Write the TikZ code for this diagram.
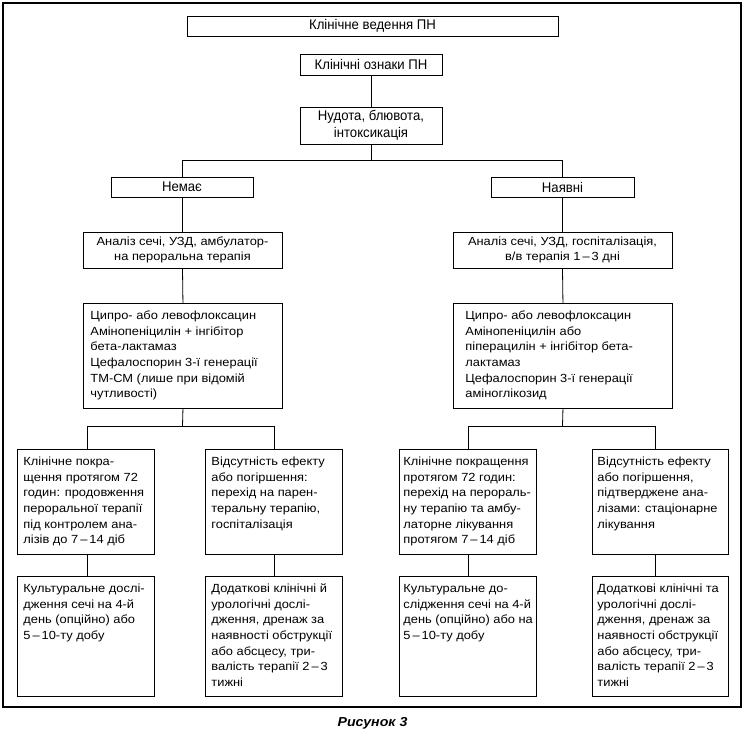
\documentclass[tikz,border=0pt]{standalone}
\usepackage{fontspec}
\setmainfont{Liberation Sans}
\newfontfamily\topfont{Liberation Sans}[FakeStretch=0.94]
\newfontfamily\lowfont{Liberation Sans}[FakeStretch=1.09]
\newcommand\boxtext[4]{\parbox[t][#2][t]{#1}{\raggedright\leftskip=#3\relax\rightskip=-60pt plus 1fil\relax\vspace*{5pt}\strut #4}}
\begin{document}
\begin{tikzpicture}[x=1pt,y=-1pt,
  cbox/.style={draw, line width=0.9pt, inner sep=0pt, align=center, font=\topfont\fontsize{14}{17}\selectfont},
  mbox/.style={draw, line width=0.9pt, inner sep=0pt, align=center, font=\lowfont\fontsize{11.8}{15.7}\selectfont},
  tbox/.style={draw, line width=0.9pt, inner sep=0pt, anchor=north west, font=\lowfont\fontsize{11.8}{15.7}\selectfont},
  conn/.style={line width=0.8pt}]
\useasboundingbox (0,0) rectangle (745,734);
\draw[line width=1.2pt] (3,3) rectangle (741,707);

\node[cbox, minimum width=371pt, minimum height=20pt] (top) at (372.5,26) {Клінічне ведення ПН};
\node[cbox, minimum width=142pt, minimum height=21pt] (ozn) at (371,64.5) {Клінічні ознаки ПН};
\node[cbox, minimum width=142pt, minimum height=37pt] (nud) at (371,125.5) {Нудота, блювота,\\інтоксикація};
\node[cbox, minimum width=142pt, minimum height=20pt] (no) at (182,187) {Немає};
\node[cbox, minimum width=143pt, minimum height=20pt] (yes) at (562.5,187) {Наявні};
\node[mbox, minimum width=199pt, minimum height=36pt] (anl) at (182.5,250) {Аналіз сечі, УЗД, амбулатор-\\на пероральна терапія};
\node[mbox, minimum width=219pt, minimum height=36pt] (anr) at (562.5,250) {Аналіз сечі, УЗД, госпіталізація,\\в/в терапія 1\,–\,3 дні};

\node[tbox] (cl) at (83,303) {\boxtext{199pt}{105pt}{7pt}{Ципро- або левофлоксацин\\Амінопеніцилін + інгібітор\\бета-лактамаз\\Цефалоспорин 3-ї генерації\\ТМ-СМ (лише при відомій\\чутливості)}};
\node[tbox] (cr) at (453,303) {\boxtext{219pt}{105pt}{12pt}{Ципро- або левофлоксацин\\Амінопеніцилін або\\піперацилін + інгібітор бета-\\лактамаз\\Цефалоспорин 3-ї генерації\\аміноглікозид}};

\node[tbox] (ll1) at (17,449) {\boxtext{137pt}{105pt}{6pt}{Клінічне покра-\\щення протягом 72\\годин: продовження\\пероральної терапії\\під контролем ана-\\лізів до 7\,–\,14 діб}};
\node[tbox] (lr1) at (205,449) {\boxtext{137pt}{105pt}{6pt}{Відсутність ефекту\\або погіршення:\\перехід на парен-\\теральну терапію,\\госпіталізація}};
\node[tbox] (rl1) at (399,449) {\boxtext{137pt}{105pt}{4pt}{Клінічне покращення\\протягом 72 годин:\\перехід на перораль-\\ну терапію та амбу-\\латорне лікування\\протягом 7\,–\,14 діб}};
\node[tbox] (rr1) at (592,449) {\boxtext{136pt}{105pt}{5pt}{Відсутність ефекту\\або погіршення,\\підтверджене ана-\\лізами: стаціонарне\\лікування}};

\node[tbox] (ll2) at (17,576) {\boxtext{137pt}{120pt}{6pt}{Культуральне дослі-\\дження сечі на 4-й\\день (опційно) або\\5\,–\,10-ту добу}};
\node[tbox] (lr2) at (205,576) {\boxtext{137pt}{120pt}{6pt}{Додаткові клінічні й\\урологічні дослі-\\дження, дренаж за\\наявності обструкції\\або абсцесу, три-\\валість терапії 2\,–\,3\\тижні}};
\node[tbox] (rl2) at (399,576) {\boxtext{137pt}{120pt}{4pt}{Культуральне до-\\слідження сечі на 4-й\\день (опційно) або на\\5\,–\,10-ту добу}};
\node[tbox] (rr2) at (592,576) {\boxtext{136pt}{120pt}{5pt}{Додаткові клінічні та\\урологічні дослі-\\дження, дренаж за\\наявності обструкції\\або абсцесу, три-\\валість терапії 2\,–\,3\\тижні}};

\node[font=\lowfont\bfseries\itshape\fontsize{13}{15}\selectfont] (cap) at (372.5,723) {Рисунок 3};

\coordinate (jtop) at (371,161);
\coordinate (jl) at (182.5,426);
\coordinate (jr) at (562.5,426);

\draw[conn] (ozn.south) -- (nud.north);
\draw[conn] (nud.south) -- (jtop);
\draw[conn] (no.north) -- ++(0,-16) -| (yes.north);
\draw[conn] (no.south) -- (no.south |- anl.north);
\draw[conn] (yes.south) -- (anr.north);
\draw[conn] (anl.south) -- (cl.north);
\draw[conn] (anr.south) -- (cr.north);
\draw[conn] (cl.south) -- (jl);
\draw[conn] (cr.south) -- (jr);
\draw[conn] ([xshift=1.5pt]ll1.north) -- ++(0,-23) -| (lr1.north);
\draw[conn] (rl1.north) -- ++(0,-23) -| ([xshift=-5pt]rr1.north);
\draw[conn] ([xshift=1.5pt]ll1.south) -- ([xshift=1.5pt]ll2.north);
\draw[conn] (lr1.south) -- (lr2.north);
\draw[conn] (rl1.south) -- (rl2.north);
\draw[conn] ([xshift=-5pt]rr1.south) -- ([xshift=-5pt]rr2.north);
\end{tikzpicture}
\end{document}
